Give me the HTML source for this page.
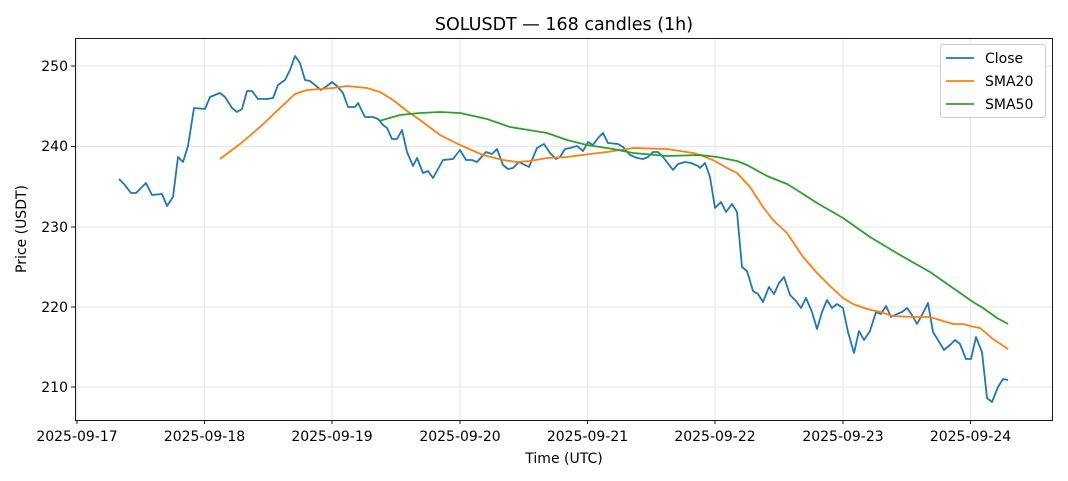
<!DOCTYPE html>
<html><head><meta charset="utf-8"><style>body{margin:0;background:#fff}svg{display:block;font-family:"DejaVu Sans","Liberation Sans",sans-serif}</style></head><body>
<svg width="1068" height="481" viewBox="0 0 1068 481">
<rect width="1068" height="481" fill="#fff"/>
<g stroke="#e6e6e6" stroke-width="1">
<line x1="77" y1="38" x2="77" y2="420"/><line x1="204.5" y1="38" x2="204.5" y2="420"/><line x1="332" y1="38" x2="332" y2="420"/><line x1="460" y1="38" x2="460" y2="420"/><line x1="587.5" y1="38" x2="587.5" y2="420"/><line x1="715" y1="38" x2="715" y2="420"/><line x1="843" y1="38" x2="843" y2="420"/><line x1="970.5" y1="38" x2="970.5" y2="420"/>
<line x1="75" y1="387" x2="1052" y2="387"/><line x1="75" y1="307" x2="1052" y2="307"/><line x1="75" y1="227" x2="1052" y2="227"/><line x1="75" y1="146.5" x2="1052" y2="146.5"/><line x1="75" y1="66" x2="1052" y2="66"/>
</g>
<g fill="none" stroke-width="1.8" stroke-linejoin="round">
<polyline stroke="#1f77b4" points="119,179 124,184 131,193 136,193 146,183 152,195 162,194 167,206 173,197 178,157 183,162 188,146 194,108 205,109 210,97 215,95 220,93 225,97 232,108 237,112 242,109 247,91 252,91 258,99 267,99 273,98 278,85 285,80 290,70 295,56 300,63 305,80 310,81 321,90 327,86 332,82 337,86 343,93 348,107 355,107 358,103 365,117 373,117 378,119 383,125 387,128 392,139 397,139 402,130 407,152 413,166 417,158 423,173 428,171 433,178 443,160 453,159 460,150 466,160 472,160 477,162 486,152 492,154 497,149 503,165 508,169 513,168 519,162 523,164 529,167 537,148 544,144 550,153 556,159 560,157 565,149 570,148 577,146 583,151 588,142 593,145 598,138 603,133 608,143 618,144 623,147 630,155 637,158 643,159 648,157 653,152 658,152 663,157 673,170 678,164 685,162 691,163 698,166 700,168 705,163 710,177 715,208 721,202 726,212 732,204 737,212 742,267 747,271 753,291 758,294 763,302 769,287 774,294 779,283 784,277 790,295 796,301 801,308 806,298 812,312 817,329 822,312 827,300 832,308 837,304 843,308 848,332 854,353 859,331 864,340 870,331 876,312 881,314 886,306 891,317 897,314 902,312 907,308 912,315 917,324 923,313 928,303 933,332 938,340 944,350 950,345 955,340 960,344 966,359 971,359 976,337 982,352 987,398 992,402 998,387 1003,379 1008,380"/>
<polyline stroke="#ff7f0e" points="220,159 240,144 260,127 280,108 295,94 307,90 333,88 347,86 367,88 380,92 393,100 407,111 420,120 440,135 460,145 483,155 503,160 517,162 530,161 547,158 567,157 590,154 607,152 633,148 667,149 693,153 700,155 713,160 727,168 737,173 750,187 763,207 773,220 787,233 803,257 817,273 830,286 843,298 853,304 867,309 880,312 893,316 913,317 930,317 943,321 953,324 963,324 970,326 980,328 993,339 1008,349"/>
<polyline stroke="#2ca02c" points="379,121 400,115 420,113 440,112 460,113 487,119 510,127 547,133 567,140 587,145 613,149 633,153 667,156 700,155 717,157 737,161 747,165 767,176 787,184 800,192 817,203 843,218 870,237 900,255 930,272 953,288 973,302 983,308 997,318 1008,324"/>
</g>
<rect x="75.5" y="38.5" width="977" height="382" fill="none" stroke="#000" stroke-width="0.9"/>
<g stroke="#000" stroke-width="0.9">
<line x1="77" y1="420" x2="77" y2="424"/><line x1="204.5" y1="420" x2="204.5" y2="424"/><line x1="332" y1="420" x2="332" y2="424"/><line x1="460" y1="420" x2="460" y2="424"/><line x1="587.5" y1="420" x2="587.5" y2="424"/><line x1="715" y1="420" x2="715" y2="424"/><line x1="843" y1="420" x2="843" y2="424"/><line x1="970.5" y1="420" x2="970.5" y2="424"/>
<line x1="71" y1="387" x2="75" y2="387"/><line x1="71" y1="307" x2="75" y2="307"/><line x1="71" y1="227" x2="75" y2="227"/><line x1="71" y1="146.5" x2="75" y2="146.5"/><line x1="71" y1="66" x2="75" y2="66"/>
</g>
<g font-size="14" fill="#000" text-anchor="middle">
<text x="77" y="441">2025-09-17</text><text x="204.5" y="441">2025-09-18</text><text x="332" y="441">2025-09-19</text><text x="460" y="441">2025-09-20</text><text x="587.5" y="441">2025-09-21</text><text x="715" y="441">2025-09-22</text><text x="843" y="441">2025-09-23</text><text x="970.5" y="441">2025-09-24</text>
<text x="564" y="463">Time (UTC)</text>
<text x="564" y="30" font-size="17.5">SOLUSDT — 168 candles (1h)</text>
<text transform="translate(26,229) rotate(-90)">Price (USDT)</text>
</g>
<g font-size="14" text-anchor="end"><text x="68" y="392">210</text><text x="68" y="312">220</text><text x="68" y="232">230</text><text x="68" y="151">240</text><text x="68" y="71">250</text></g>
<rect x="940.5" y="44.5" width="105" height="73" rx="3" fill="#fff" stroke="#ccc"/>
<g stroke-width="1.8"><line x1="946" y1="58" x2="974" y2="58" stroke="#1f77b4"/><line x1="946" y1="81" x2="974" y2="81" stroke="#ff7f0e"/><line x1="946" y1="104" x2="974" y2="104" stroke="#2ca02c"/></g>
<g font-size="14"><text x="985" y="63">Close</text><text x="985" y="86">SMA20</text><text x="985" y="109">SMA50</text></g>
</svg></body></html>
